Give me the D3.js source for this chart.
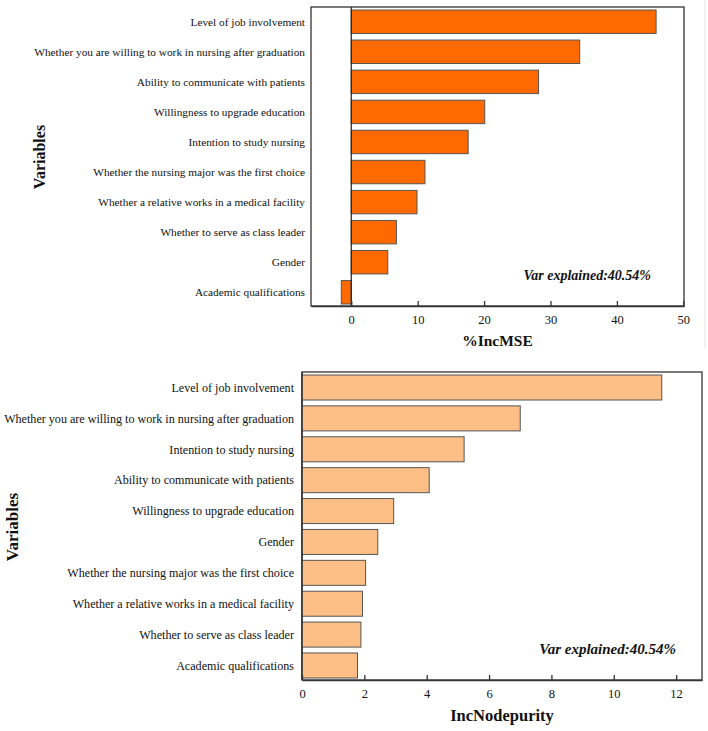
<!DOCTYPE html>
<html><head><meta charset="utf-8">
<script src="https://cdn.jsdelivr.net/npm/d3@7"></script>
<style>
body{margin:0;background:#fff;}
text{font-family:"Liberation Serif","Times New Roman",serif;fill:#111;}
</style></head>
<body>
<svg id="c" width="708" height="731"></svg>
<script>
const mseVars = ["Level of job involvement","Whether you are willing to work in nursing after graduation","Ability to communicate with patients","Willingness to upgrade education","Intention to study nursing","Whether the nursing major was the first choice","Whether a relative works in a medical facility","Whether to serve as class leader","Gender","Academic qualifications"];
const mseVals = [45.9, 34.4, 28.2, 20.1, 17.6, 11.1, 9.9, 6.8, 5.5, -1.5];
const mseTicks = [0,10,20,30,40,50];

const npVars = ["Level of job involvement","Whether you are willing to work in nursing after graduation","Intention to study nursing","Ability to communicate with patients","Willingness to upgrade education","Gender","Whether the nursing major was the first choice","Whether a relative works in a medical facility","Whether to serve as class leader","Academic qualifications"];
const npVals = [11.54, 7.0, 5.2, 4.08, 2.94, 2.43, 2.04, 1.94, 1.89, 1.78];
const npTicks = [0,2,4,6,8,10,12];

const note = "Var explained:40.54%";

const svg = d3.select("#c");

svg.append("line").attr("x1",705).attr("x2",705).attr("y1",0).attr("y2",348)
  .attr("stroke","#e2e2e2").attr("stroke-width",1);

function panel(o){
  const g = svg.append("g");
  const x = d3.scaleLinear().domain(o.domain).range([o.left,o.right]);
  const y = d3.scaleBand().domain(o.cats).range([o.top+o.padTop,o.bottom-o.padBot]).paddingInner(o.pad).paddingOuter(0);
  g.append("rect").attr("x",o.left).attr("y",o.top).attr("width",o.right-o.left).attr("height",o.bottom-o.top)
    .attr("fill","none").attr("stroke","#333").attr("stroke-width",1.3);
  g.selectAll("rect.bar").data(o.vals).join("rect").attr("class","bar")
    .attr("x",d=>x(Math.min(0,d))).attr("width",d=>Math.abs(x(d)-x(0)))
    .attr("y",(d,i)=>y(o.cats[i])).attr("height",y.bandwidth())
    .attr("fill",o.color).attr("stroke","#555").attr("stroke-width",1);
  g.append("line").attr("x1",x(0)).attr("x2",x(0)).attr("y1",o.top).attr("y2",o.bottom)
    .attr("stroke","#222").attr("stroke-width",1.2);
  const ax = d3.axisBottom(x).tickValues(o.ticks).tickSizeInner(-5).tickSizeOuter(0).tickPadding(9).tickFormat(d3.format("d"));
  const axg = g.append("g").attr("transform",`translate(0,${o.bottom})`).call(ax);
  axg.select(".domain").attr("stroke","#333").attr("stroke-width",1.3);
  axg.selectAll(".tick line").attr("stroke","#333").attr("stroke-width",1.3);
  axg.selectAll(".tick text").attr("font-family","Liberation Serif").attr("font-size",o.tickFs).attr("fill","#333");
  g.selectAll("text.cat").data(o.cats).join("text").attr("class","cat")
    .attr("x",o.left-o.labGap).attr("y",d=>y(d)+y.bandwidth()/2).attr("dy","0.35em")
    .attr("text-anchor","end").attr("font-size",o.catFs).text(d=>d);
  g.append("text").attr("x",(o.left+o.right)/2).attr("y",o.xTitleY).attr("text-anchor","middle")
    .attr("font-weight","bold").attr("font-size",o.titleFs).text(o.xTitle);
  g.append("text").attr("transform",`translate(${o.yTitleX},${o.yTitleY}) rotate(-90)`).attr("text-anchor","middle")
    .attr("font-weight","bold").attr("font-size",o.yTitleFs).text("Variables");
  g.append("text").attr("x",o.noteX).attr("y",o.noteY).attr("text-anchor","end")
    .attr("font-weight","bold").attr("font-style","italic").attr("font-size",o.noteFs).text(note);
}

panel({left:311,right:684,top:7,bottom:306,padTop:3,padBot:2,pad:0.22,domain:[-6.06,50.1],
  cats:mseVars,vals:mseVals,ticks:mseTicks,color:"#ff6a00",tickFs:12.5,catFs:11.3,labGap:6,
  xTitle:"%IncMSE",xTitleY:346,titleFs:15.5,yTitleX:45,yTitleY:157,yTitleFs:16,noteX:651,noteY:280,noteFs:14});

panel({left:302,right:702,top:372,bottom:680,padTop:3,padBot:2,pad:0.19,domain:[0,12.83],
  cats:npVars,vals:npVals,ticks:npTicks,color:"#fdbf85",tickFs:12.5,catFs:12.1,labGap:8,
  xTitle:"IncNodepurity",xTitleY:721,titleFs:16.5,yTitleX:18,yTitleY:527,yTitleFs:17,noteX:676,noteY:654,noteFs:15});
</script>
</body></html>
